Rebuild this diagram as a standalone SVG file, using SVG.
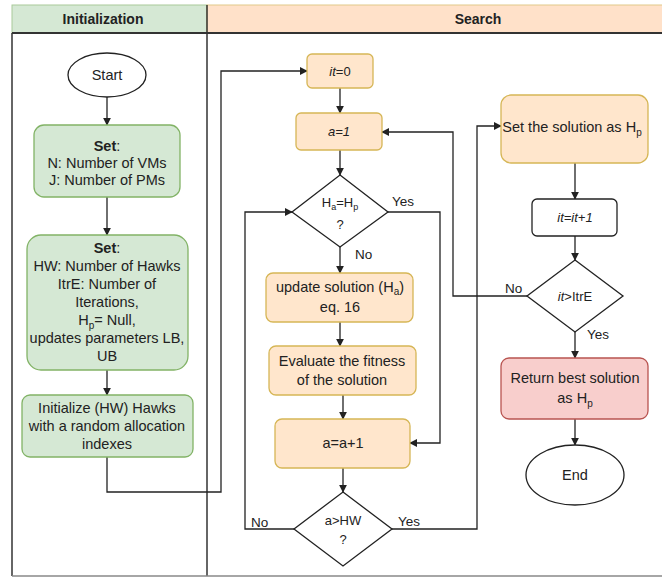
<svg xmlns="http://www.w3.org/2000/svg" width="662" height="578" viewBox="0 0 662 578">
<style>
text{font-family:"Liberation Sans",Arial,sans-serif;fill:#222;}
.t{font-size:14.5px;text-anchor:middle;}
.s{font-size:13px;text-anchor:middle;}
.lb{font-size:13.5px;}
.hd{font-size:14px;font-weight:bold;text-anchor:middle;}
.g{fill:#d5e8d4;stroke:#82b366;stroke-width:1.3;}
.o{fill:#ffe6cc;stroke:#d6b656;stroke-width:1.3;}
.r{fill:#f8cecc;stroke:#b85450;stroke-width:1.3;}
.w{fill:#fff;stroke:#222;stroke-width:1.3;}
.c path{fill:none;stroke:#222;stroke-width:1.3;marker-end:url(#ah);}
</style>
<defs>
<marker id="ah" viewBox="0 0 10 10" refX="9" refY="5" markerWidth="8" markerHeight="8" markerUnits="userSpaceOnUse" orient="auto">
<path d="M0,0 L10,5 L0,10 z" fill="#222"/>
</marker>
</defs>
<rect width="662" height="578" fill="#fff"/>
<g id="frame">
<rect x="12" y="5" width="195" height="28" fill="#d5e8d4" stroke="#a9c99a" stroke-width="1"/>
<rect x="207" y="5" width="470" height="28" fill="#ffe1c9" stroke="#e2c98a" stroke-width="1"/>
<line x1="12" y1="33" x2="662" y2="33" stroke="#333" stroke-width="2"/>
<line x1="12" y1="33" x2="12" y2="576" stroke="#333" stroke-width="1.5"/>
<line x1="207" y1="5" x2="207" y2="576" stroke="#333" stroke-width="1.5"/>
<line x1="12" y1="576" x2="662" y2="576" stroke="#888" stroke-width="1.5"/>
<text class="hd" x="103" y="24">Initialization</text>
<text class="hd" x="478" y="24">Search</text>
</g>
<g class="c" id="connectors">
<path d="M107,97 V125"/>
<path d="M107,197 V235"/>
<path d="M107,370 V395"/>
<path d="M107,457 V492 H221 V71 H307"/>
<path d="M340,88 V113"/>
<path d="M340,150 V175"/>
<path d="M340,247 V273"/>
<path d="M340,322 V346"/>
<path d="M343,395 V419"/>
<path d="M343,468 V492"/>
<path d="M294,529 H245 V212 H292"/>
<path d="M392,529 H477 V126 H501"/>
<path d="M388,212 H440 V443 H410"/>
<path d="M575,163 V199"/>
<path d="M575,236 V260"/>
<path d="M527,296 H453 V132 H382"/>
<path d="M575,332 V358"/>
<path d="M575,419 V445"/>
<text class="lb" x="355" y="259">No</text>
<text class="lb" x="251" y="527">No</text>
<text class="lb" x="398" y="526">Yes</text>
<text class="lb" x="392" y="206">Yes</text>
<text class="lb" x="505" y="293">No</text>
<text class="lb" x="587" y="339">Yes</text>
</g>
<g id="start">
<ellipse class="w" cx="107" cy="75" rx="39" ry="22"/>
<text class="t" x="107" y="80">Start</text>
</g>
<g id="set1">
<rect class="g" x="34" y="125" width="146" height="72" rx="10"/>
<text class="t" x="107" y="151"><tspan font-weight="bold">Set</tspan>:</text>
<text class="t" x="107" y="168">N: Number of VMs</text>
<text class="t" x="107" y="185">J: Number of PMs</text>
</g>
<g id="set2">
<rect class="g" x="27" y="235" width="161" height="135" rx="14"/>
<text class="t" x="107" y="253"><tspan font-weight="bold">Set</tspan>:</text>
<text class="t" x="107" y="271">HW: Number of Hawks</text>
<text class="t" x="107" y="289">ItrE: Number of</text>
<text class="t" x="107" y="307">Iterations,</text>
<text class="t" x="107" y="325">H<tspan font-size="10" dy="4">p</tspan><tspan dy="-4">= Null,</tspan></text>
<text class="t" x="107" y="343">updates parameters LB,</text>
<text class="t" x="107" y="361">UB</text>
</g>
<g id="init">
<rect class="g" x="22" y="395" width="171" height="62" rx="8"/>
<text class="t" x="107" y="413">Initialize (HW) Hawks</text>
<text class="t" x="107" y="431">with a random allocation</text>
<text class="t" x="107" y="449">indexes</text>
</g>
<g id="it0">
<rect class="o" x="307" y="54" width="66" height="34" rx="5"/>
<text class="s" x="340" y="76"><tspan font-style="italic">it</tspan>=0</text>
</g>
<g id="a1">
<rect class="o" x="296" y="113" width="86" height="37" rx="5"/>
<text class="s" x="339" y="136" font-style="italic">a=1</text>
</g>
<g id="d1">
<polygon class="w" points="340,175 388,212 340,247 292,212"/>
<text class="s" x="340" y="207">H<tspan font-size="9" dy="3">a</tspan><tspan dy="-3">=H</tspan><tspan font-size="9" dy="3">p</tspan></text>
<text class="s" x="340" y="229" font-size="11">?</text>
</g>
<g id="update">
<rect class="o" x="266" y="273" width="147" height="49" rx="7"/>
<text class="t" x="340" y="292">update solution (H<tspan font-size="10" dy="3">a</tspan><tspan dy="-3">)</tspan></text>
<text class="t" x="340" y="312">eq. 16</text>
</g>
<g id="evaluate">
<rect class="o" x="269" y="346" width="147" height="49" rx="7"/>
<text class="t" x="342" y="366">Evaluate the fitness</text>
<text class="t" x="342" y="385">of the solution</text>
</g>
<g id="ainc">
<rect class="o" x="275" y="419" width="135" height="49" rx="7"/>
<text class="t" x="343" y="448">a=a+1</text>
</g>
<g id="d2">
<polygon class="w" points="343,492 392,529 343,566 294,529"/>
<text class="s" x="343" y="525">a&gt;HW</text>
<text class="s" x="343" y="544">?</text>
</g>
<g id="setsol">
<rect class="o" x="501" y="95" width="147" height="68" rx="10"/>
<text class="t" x="572" y="132">Set the solution as H<tspan font-size="10" dy="4">p</tspan></text>
</g>
<g id="itinc">
<rect class="w" x="532" y="199" width="85" height="37" rx="5"/>
<text class="s" x="575" y="222" font-style="italic">it=it+1</text>
</g>
<g id="d3">
<polygon class="w" points="575,260 623,296 575,332 527,296"/>
<text class="s" x="575" y="301"><tspan font-style="italic">it</tspan>&gt;ItrE</text>
</g>
<g id="return">
<rect class="r" x="501" y="358" width="147" height="61" rx="8"/>
<text class="t" x="575" y="383">Return best solution</text>
<text class="t" x="575" y="403">as H<tspan font-size="10" dy="4">p</tspan></text>
</g>
<g id="end">
<ellipse class="w" cx="575" cy="475" rx="49" ry="30"/>
<text class="t" x="575" y="480">End</text>
</g>
</svg>
